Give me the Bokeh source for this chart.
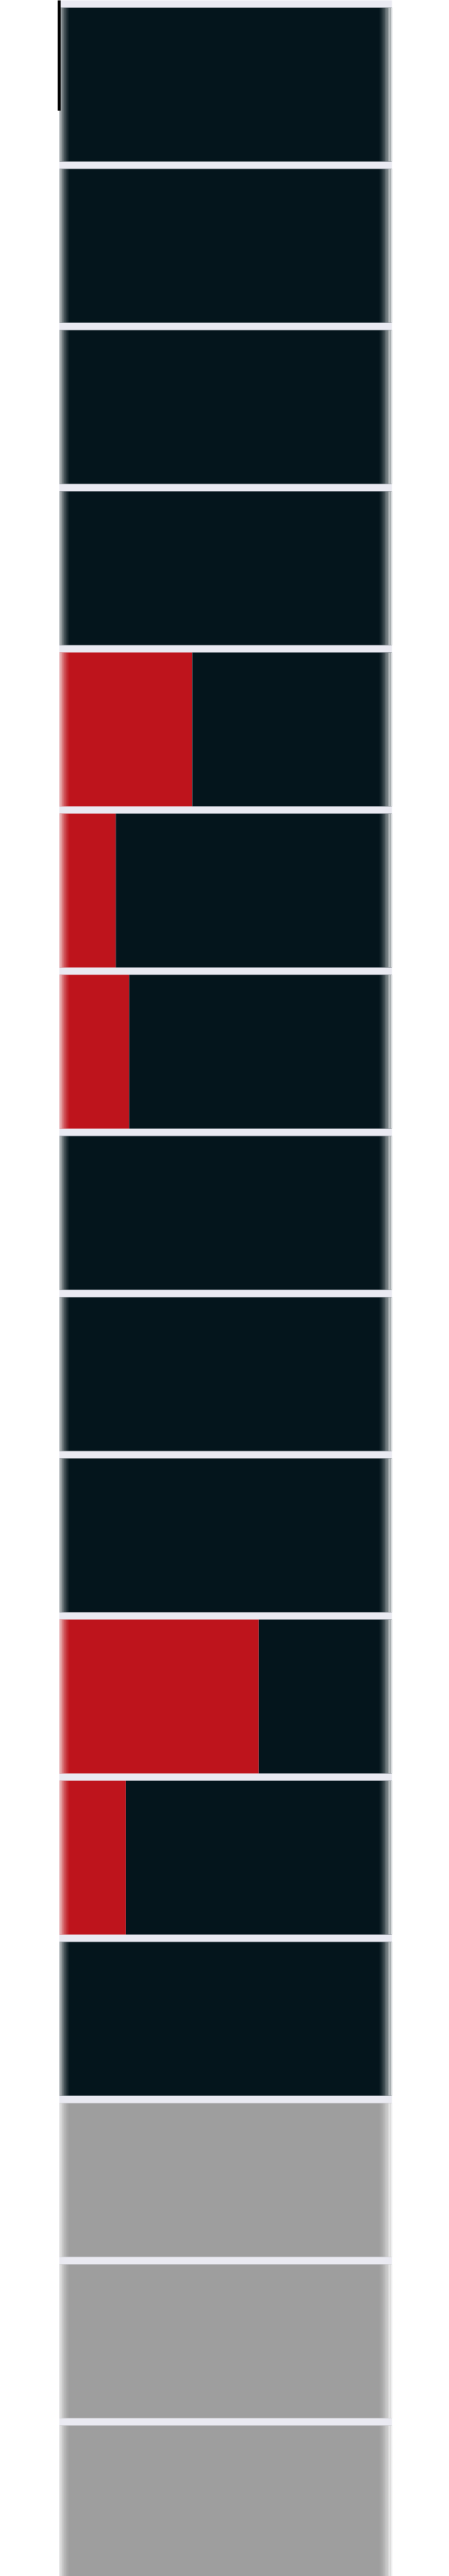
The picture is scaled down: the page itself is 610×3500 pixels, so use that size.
from bokeh.plotting import figure
from bokeh.models import Range1d, LinearAxis, ColumnDataSource, FixedTicker
from bokeh.embed import file_html
from bokeh.resources import INLINE

# ---- data ----
categories = [f"Row {i+1}" for i in range(16)]
red_values = [0, 0, 0, 0, 40, 17, 21, 0, 0, 0, 60, 20, 0, None, None, None]
totals = [100] * 16

RED = "#BE141C"
DARK = "#04151C"
GRAY = "#9E9E9E"
STRIPE = "#EAEAF2"

idx = list(range(len(categories)))
have = [i for i in idx if red_values[i] is not None]
na = [i for i in idx if red_values[i] is None]

W, H = 602, 3500
FL, FR = 80, 532
y_top = (0 - 114.5) / 219
y_bot = (H - 114.5) / 219

p = figure(width=W, height=H, output_backend="svg", toolbar_location=None,
           x_range=Range1d(0, 100), y_range=Range1d(y_bot, y_top),
           min_border_left=FL, min_border_right=W - FR,
           min_border_top=0, min_border_bottom=0)
p.background_fill_color = STRIPE
p.border_fill_color = "white"
p.outline_line_color = None
p.grid.visible = False
p.xaxis.visible = False
p.yaxis.visible = False

bar_h = 209 / 219

red_src = ColumnDataSource(dict(y=[i for i in have], right=[red_values[i] for i in have]))
dark_src = ColumnDataSource(dict(y=[i for i in have], left=[red_values[i] for i in have],
                                 right=[totals[i] for i in have]))
na_src = ColumnDataSource(dict(y=na, right=[totals[i] for i in na]))

p.hbar(y="y", left=0, right="right", height=bar_h, source=red_src,
       fill_color=RED, line_color=None)
p.hbar(y="y", left="left", right="right", height=bar_h, source=dark_src,
       fill_color=DARK, line_color=None)
p.hbar(y="y", left=0, right="right", height=bar_h, source=na_src,
       fill_color=GRAY, line_color=None)

# soft edge fade on each bar (styling)
px = 100 / (FR - FL)
alphas_l = [0.78, 0.62, 0.48, 0.36, 0.26, 0.17, 0.1, 0.04]
alphas_r = [0.04, 0.1, 0.17, 0.26, 0.36, 0.48, 0.62, 0.78, 0.88]
ys, ls, rs, als = [], [], [], []
for i in idx:
    for k, a in enumerate(alphas_l):
        ys.append(i); ls.append(k * 1.7 * px); rs.append((k + 1) * 1.7 * px); als.append(a)
    start = 100 - len(alphas_r) * 1.9 * px
    for k, a in enumerate(alphas_r):
        ys.append(i); ls.append(start + k * 1.9 * px); rs.append(start + (k + 1) * 1.9 * px); als.append(a)
fade = ColumnDataSource(dict(y=ys, left=ls, right=rs, a=als))
p.hbar(y="y", left="left", right="right", height=bar_h, source=fade,
       fill_color="white", fill_alpha="a", line_color=None)

# short dark axis line at top-left
ax = LinearAxis(bounds=(y_top, (150 - 114.5) / 219), axis_line_width=4, axis_line_color="black",
                ticker=FixedTicker(ticks=[]),
                major_tick_line_color=None, minor_tick_line_color=None)
p.add_layout(ax, "left")

open("out.html", "w").write(file_html(p, INLINE))
